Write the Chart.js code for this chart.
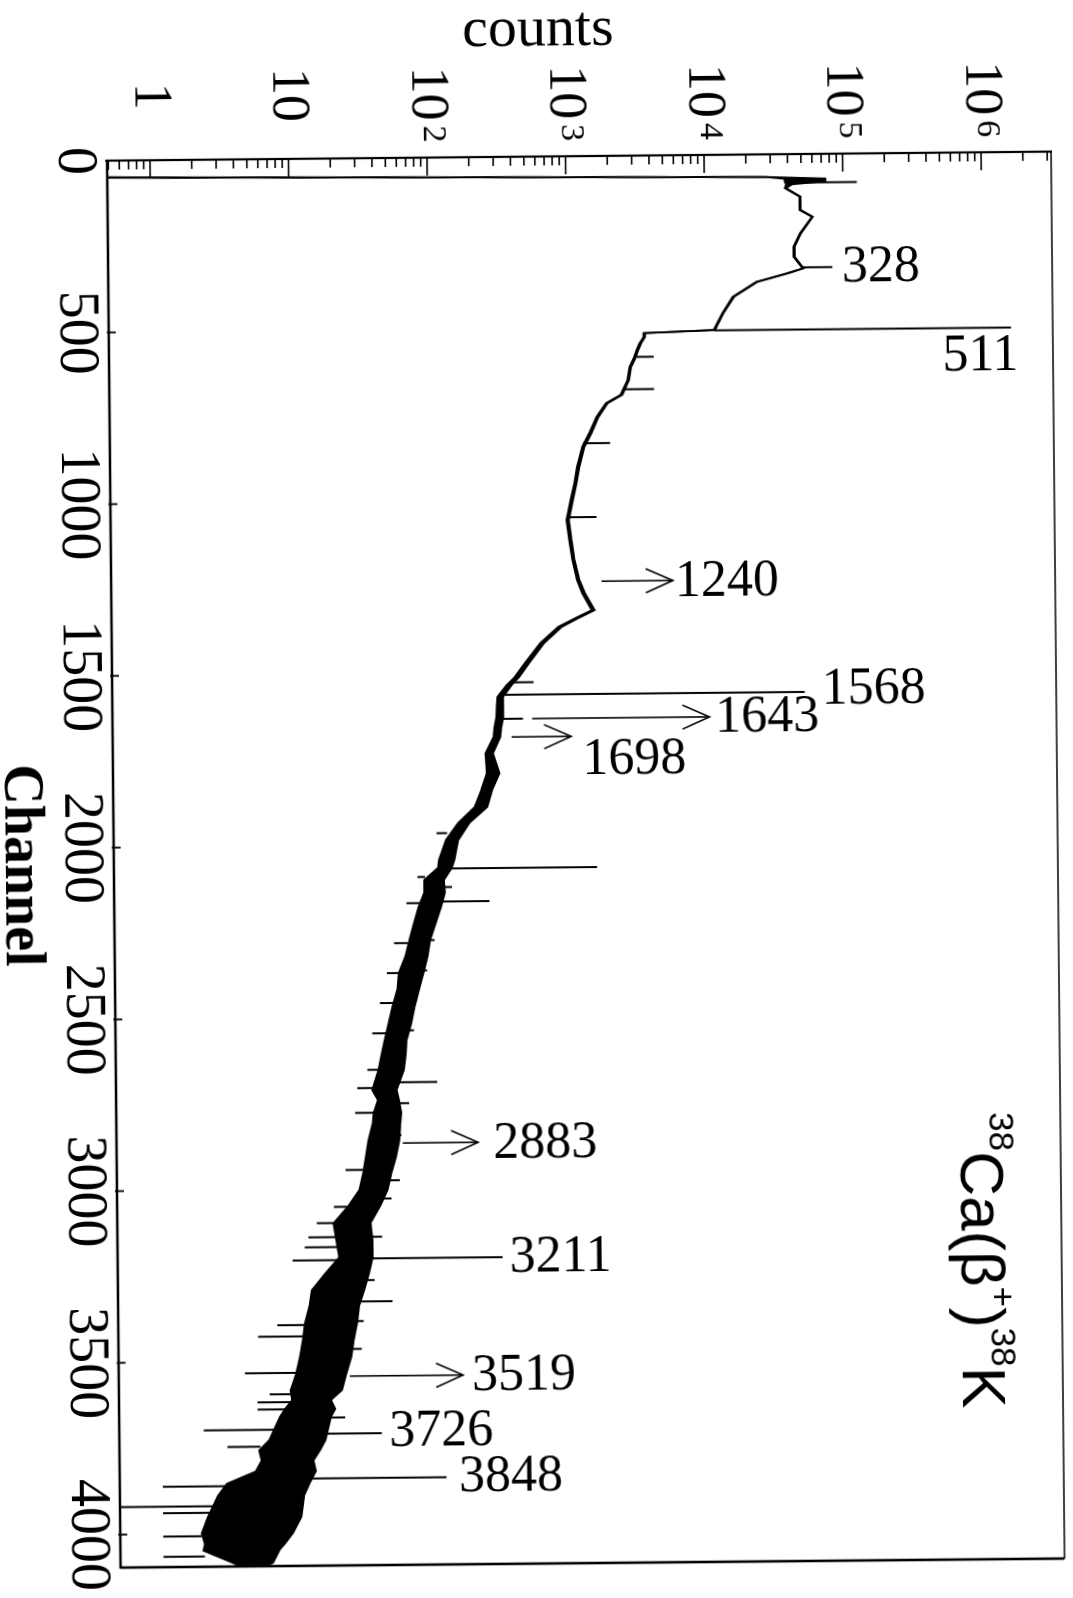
<!DOCTYPE html>
<html>
<head>
<meta charset="utf-8">
<script src="https://cdn.jsdelivr.net/npm/chart.js@4.4.0/dist/chart.umd.min.js"></script>
<style>
  html, body { margin: 0; padding: 0; background: #fff; overflow: hidden; }
  body { width: 1073px; height: 1598px; position: relative; }
  /* the figure is printed turned on its side, slightly skewed */
  #wrap { position: absolute; left: 0; top: 0; width: 1600px; height: 1090px;
          transform-origin: 0 0; transform: translate(1071.5px, -8.6px) rotate(89.45deg); }
</style>
</head>
<body>
<div id="wrap"><canvas id="spectrum" width="1600" height="1090"></canvas></div>
<script>
// spectrum: channel, lower and upper edge of the trace (counts)
const channel = [48, 50, 52, 66, 72, 80, 88, 99, 124, 163,
  183, 231, 270, 299, 333, 346, 371, 414, 461, 495,
  510, 517, 528, 548, 566, 590, 615, 653, 696, 720,
  760, 806, 846, 905, 952, 1001, 1059, 1117, 1175, 1234,
  1272, 1322, 1345, 1370, 1416, 1474, 1515, 1538, 1572, 1600,
  1631, 1660, 1689, 1736, 1794, 1840, 1892, 1938, 1987, 2045,
  2068, 2103, 2140, 2181, 2230, 2277, 2325, 2373, 2420, 2472,
  2520, 2568, 2610, 2655, 2713, 2742, 2780, 2810, 2860, 2908,
  2955, 3004, 3050, 3100, 3150, 3199, 3245, 3294, 3340, 3391,
  3440, 3488, 3540, 3585, 3614, 3640, 3662, 3730, 3759, 3789,
  3820, 3855, 3890, 3953, 3999, 4030, 4049, 4086, 4095];
const countsLow = [0.5, 0.5, 0.5, 2.8e4, 3.8e4, 3.8e4, 3.9e4, 3.8e4, 4.85e4, 4.85e4,
  5.95e4, 4.85e4, 4.35e4, 4.35e4, 5.05e4, 3.95e4, 2.33e4, 1.57e4, 1.32e4, 1.19e4,
  1.14e4, 3550, 3550, 3300, 3150, 3000, 2800, 2700, 2400, 1880,
  1600, 1420, 1260, 1150, 1100, 1030, 960, 1000, 1050, 1130,
  1230, 1440, 1090, 820, 610, 470, 395, 345, 295, 292,
  290, 280, 275, 240, 245, 224, 199, 151, 123, 109,
  107, 85, 85, 77, 71, 66, 61.5, 55, 53.5, 49,
  46, 43, 40.7, 38.5, 34.7, 38, 35.3, 34.7, 32.3, 30.8,
  29.4, 27.5, 22.9, 17.8, 18.6, 19.5, 15.5, 12.3, 11.8, 10.9,
  10.5, 10, 9.3, 8.5, 8.7, 7.7, 7.1, 5.9, 5.0, 5.2,
  4.7, 2.9, 2.5, 2.1, 1.9, 2.0, 1.95, 3.2, 3.5];
const countsHigh = [0.5, 1.0, 1.0, 2.8e4, 7.5e4, 7.5e4, 4.3e4, 3.9e4, 4.95e4, 4.95e4,
  6.05e4, 4.95e4, 4.45e4, 4.45e4, 5.15e4, 4.05e4, 2.38e4, 1.61e4, 1.35e4, 1.22e4,
  1.17e4, 3650, 3650, 3400, 3250, 3100, 2880, 2780, 2480, 1940,
  1660, 1480, 1310, 1200, 1140, 1070, 1000, 1040, 1090, 1180,
  1290, 1510, 1150, 870, 650, 505, 425, 375, 325, 325,
  325, 315, 308, 272, 302, 269, 245, 182, 151, 141,
  135, 118, 120, 112, 102, 93, 89, 83, 77, 71,
  67, 62, 61, 59, 52, 54, 56, 55, 54, 51,
  47, 44, 39, 33, 34, 34, 32, 29.5, 27, 26,
  24.5, 23.5, 21.5, 20, 16.6, 17.8, 16.6, 15.1, 13.8, 12.3,
  12.8, 11.5, 10.5, 10, 8.7, 7.6, 6.9, 6.2, 5.6];

// single channels standing out above the trace
const peakChannel = [83, 330, 511, 586, 680, 836, 1051, 1530, 1566, 1636,
  2070, 2124, 2166, 2278, 2366, 2540, 2691, 2752, 2845, 2976,
  3029, 3140, 3203, 3266, 3328, 3385, 3466, 3665, 3712, 3842];
const peakBase = [4.0e4, 5.1e4, 1.15e4, 3150, 2550, 1280, 980, 370, 335, 300,
  120, 110, 100, 85, 75, 60, 50, 50, 50, 45,
  40, 30, 32, 28, 26, 23, 22, 15, 14, 12];
const peakTop = [1.26e5, 8.3e4, 1.6e6, 4200, 4200, 2000, 1580, 540, 4.9e4, 450,
  1510, 135, 251, 100, 88, 70, 102, 64, 56, 54,
  47, 40, 295, 35, 47, 29, 28, 21, 38.5, 112];

// single channels dropping below the trace
const dipChannel = [1967, 2094, 2170, 2286, 2373, 2460, 2548, 2654, 2707, 2779,
  2945, 3052, 3099, 3140, 3169, 3207, 3395, 3428, 3534, 3596,
  3619, 3640, 3699, 3748, 3862, 3920, 3939, 4007, 4066];
const dipTop = [125, 86, 78, 64, 55, 50, 45, 40, 36, 36,
  30, 23, 18, 18.5, 19, 19.5, 11, 11, 9.3, 8.6,
  8.6, 7.7, 6.5, 5.1, 3.2, 2.5, 2.2, 1.9, 2.0];
const dipBottom = [105, 76, 63, 51, 45, 40, 35, 32, 27, 26,
  22, 18, 13.5, 11.7, 11, 9, 6.9, 5.0, 4.0, 6.0,
  4.9, 4.9, 2.0, 2.95, 1.0, 0.49, 1.0, 1.0, 1.0];

// gamma-ray energy labels (keV)
const labelText = ["328", "511", "1240", "1568", "1643", "1698", "2883", "3211", "3519", "3726", "3848"];
const labelChannel = [333, 595, 1243, 1561, 1640, 1758, 2874, 3206, 3549, 3709, 3845];
const labelCounts = [9.7e4, 5.1e5, 5750, 6.5e4, 1.1e4, 1200, 257, 331, 174, 43.6, 138];

// arrows pointing at weak lines
const arrowChannel = [1238, 1636, 1689, 2868, 3545];
const arrowFrom = [1700, 525, 372, 57, 22.8];
const arrowTo = [5560, 1.0e4, 1000, 200, 150];

const channelTicks = [0, 500, 1000, 1500, 2000, 2500, 3000, 3500, 4000];
const countDecades = [0, 1, 2, 3, 4, 5, 6];
const supDigits = ["", "", "2", "3", "4", "5", "6"];

const lowPts = channel.map((c, i) => ({ x: c, y: countsLow[i] }));
const highPts = channel.map((c, i) => ({ x: c, y: countsHigh[i] }));
const peakPts = [];
peakChannel.forEach((c, i) => {
  peakPts.push({ x: c, y: peakBase[i] }, { x: c, y: peakTop[i] }, { x: c, y: null });
});
const dipPts = [];
dipChannel.forEach((c, i) => {
  dipPts.push({ x: c, y: dipTop[i] }, { x: c, y: dipBottom[i] }, { x: c, y: null });
});

const serif = "'Liberation Serif', 'Times New Roman', serif";
const sans = "'Liberation Sans', Arial, sans-serif";

// box, inward ticks, count labels, titles and annotations
const frame = {
  id: "frame",
  afterDatasetsDraw(chart) {
    const { ctx, chartArea: a, scales: { x, y } } = chart;
    ctx.save();
    ctx.strokeStyle = "#000";
    ctx.fillStyle = "#000";

    const line = (x1, y1, x2, y2, w) => {
      ctx.lineWidth = w;
      ctx.beginPath();
      ctx.moveTo(x1, y1);
      ctx.lineTo(x2, y2);
      ctx.stroke();
    };
    line(a.left, a.top - 1, a.left, a.bottom + 1, 2.2);
    line(a.left - 1, a.bottom, a.right + 1, a.bottom, 2.6);
    line(a.left, a.top, a.right, a.top, 1.6);
    line(a.right, a.top, a.right, a.bottom, 2.6);

    // counts ticks
    for (let d = -1; d <= 6; d++) {
      for (let m = 1; m <= 9; m++) {
        const v = m * Math.pow(10, d);
        if (v < y.min || v > y.max) continue;
        const p = y.getPixelForValue(v);
        line(a.left, p, a.left + (m === 1 ? 18 : 9), p, 1.6);
      }
    }
    // channel ticks
    channelTicks.forEach((c) => {
      const p = x.getPixelForValue(c);
      line(p, a.bottom + 2, p, a.bottom - 7, 1.8);
    });

    // count labels: 1, 10, 10^2 ...
    countDecades.forEach((d, i) => {
      const p = y.getPixelForValue(Math.pow(10, d));
      ctx.font = "54px " + serif;
      ctx.textAlign = "center";
      ctx.textBaseline = "middle";
      ctx.fillText(d === 0 ? "1" : "10", 96, p);
      if (supDigits[i]) {
        ctx.font = "34px " + serif;
        ctx.textAlign = "left";
        ctx.textBaseline = "alphabetic";
        ctx.fillText(supDigits[i], 128, p + 3);
      }
    });

    // axis titles
    ctx.save();
    ctx.translate(49, 534);
    ctx.rotate(-Math.PI / 2);
    ctx.font = "58px " + serif;
    ctx.textAlign = "center";
    ctx.textBaseline = "alphabetic";
    ctx.fillText("counts", 0, 0);
    ctx.restore();

    ctx.font = "bold 56px " + serif;
    ctx.textAlign = "center";
    ctx.textBaseline = "alphabetic";
    ctx.fillText("Channel", 864, 1074);

    // arrows
    arrowChannel.forEach((c, i) => {
      const px = x.getPixelForValue(c);
      const y1 = y.getPixelForValue(arrowFrom[i]);
      const y2 = y.getPixelForValue(arrowTo[i]);
      line(px, y1, px, y2, 1.6);
      ctx.lineWidth = 1.6;
      ctx.beginPath();
      ctx.moveTo(px - 12, y2 + 27);
      ctx.lineTo(px, y2);
      ctx.lineTo(px + 12, y2 + 27);
      ctx.stroke();
    });

    // energy labels, written along the counts axis
    ctx.font = "52px " + serif;
    ctx.textAlign = "left";
    ctx.textBaseline = "middle";
    labelText.forEach((t, i) => {
      ctx.save();
      ctx.translate(x.getPixelForValue(labelChannel[i]), y.getPixelForValue(labelCounts[i]));
      ctx.rotate(-Math.PI / 2);
      ctx.fillText(t, 0, 0);
      ctx.restore();
    });

    // reaction label 38Ca(beta+)38K
    const parts = [["38", true], ["Ca(\u03b2", false], ["+", true], [")", false], ["38", true], ["K", false]];
    let cx = 1120;
    ctx.textAlign = "left";
    ctx.textBaseline = "alphabetic";
    parts.forEach(([t, sup]) => {
      ctx.font = (sup ? "35px " : "62px ") + sans;
      ctx.fillText(t, cx, sup ? 93 : 122);
      cx += ctx.measureText(t).width;
    });

    ctx.restore();
  }
};

new Chart(document.getElementById("spectrum"), {
  type: "line",
  data: {
    datasets: [
      { data: lowPts, borderColor: "#000", borderWidth: 1.8, pointRadius: 0, fill: false },
      { data: highPts, borderColor: "#000", borderWidth: 1.8, pointRadius: 0, fill: "-1", backgroundColor: "#000" },
      { data: peakPts, borderColor: "#000", borderWidth: 2, pointRadius: 0, fill: false, spanGaps: false },
      { data: dipPts, borderColor: "#000", borderWidth: 2, pointRadius: 0, fill: false, spanGaps: false }
    ]
  },
  options: {
    responsive: false,
    animation: false,
    devicePixelRatio: 1,
    layout: { padding: { top: 22, right: 33, left: 0, bottom: 0 } },
    plugins: { legend: { display: false }, tooltip: { enabled: false } },
    scales: {
      x: {
        type: "linear",
        min: 0,
        max: 4096,
        grid: { display: false, drawTicks: false },
        border: { display: false },
        afterBuildTicks: (s) => { s.ticks = channelTicks.map((v) => ({ value: v })); },
        ticks: {
          autoSkip: false,
          maxRotation: 0,
          padding: 0,
          color: "#000",
          font: { family: serif, size: 56 },
          callback: (v) => String(v)
        },
        afterFit: (s) => { s.height = 124; }
      },
      y: {
        type: "logarithmic",
        min: 0.49,
        max: 3.2e6,
        grid: { display: false },
        border: { display: false },
        ticks: { display: false },
        afterFit: (s) => { s.width = 160; }
      }
    }
  },
  plugins: [frame]
});
</script>
</body>
</html>
